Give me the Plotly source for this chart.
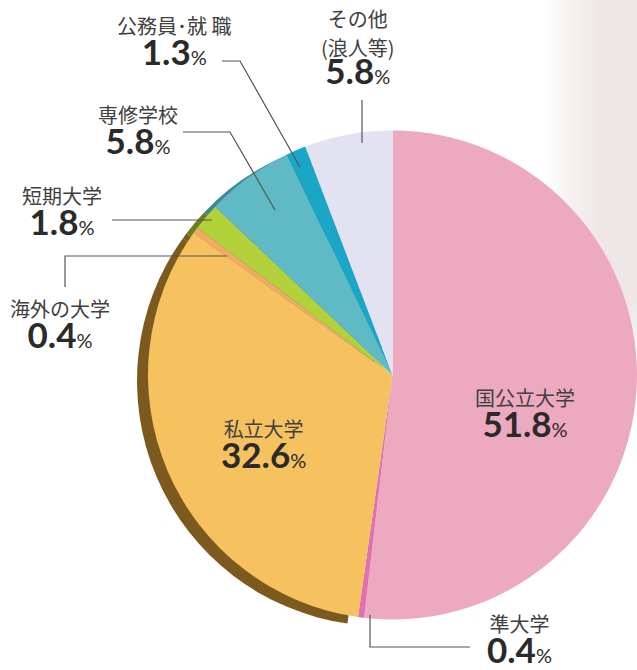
import plotly.graph_objects as go

W, H = 637, 670

categories = ["国公立大学", "準大学", "私立大学", "海外の大学", "短期大学", "専修学校", "公務員・就職", "その他(浪人等)"]
values = [51.8, 0.4, 32.6, 0.4, 1.8, 5.8, 1.3, 5.8]
colors = ["#EDA9BF", "#E070AE", "#F6C15F", "#F4A86A", "#B3D13A", "#5FBAC6", "#1AA6C6", "#E3E2F2"]
shadow_colors = ["rgba(0,0,0,0)", "rgba(0,0,0,0)", "#7C5A1E", "#7C5A1E", "#6E7C1E", "#3F8893", "#137A92", "#B5B4C4"]

def px(x):
    return x / W

def py(y):
    return 1 - y / H

cx, cy, r = 393, 375, 245
dom_x = [max(0, px(cx - r)), min(1, px(cx + r))]
dom_y = [py(cy + r), py(cy - r)]
sdx, sdy = -11, 6
sdom_x = [max(0, px(cx - r + sdx)), min(1, px(cx + r + sdx))]
sdom_y = [py(cy + r + sdy), py(cy - r + sdy)]

fig = go.Figure()
fig.add_trace(go.Pie(labels=categories, values=values, sort=False, direction="clockwise",
                     marker=dict(colors=shadow_colors, line=dict(width=0)),
                     textinfo="none", hoverinfo="skip", showlegend=False,
                     domain=dict(x=sdom_x, y=sdom_y)))
fig.add_trace(go.Pie(labels=categories, values=values, sort=False, direction="clockwise",
                     marker=dict(colors=colors, line=dict(width=0)),
                     textinfo="none", showlegend=False,
                     domain=dict(x=dom_x, y=dom_y)))

jp = "Noto Sans CJK JP"
numfont = "Lato"

label_lines = [["国公立大学"], ["準大学"], ["私立大学"], ["海外の大学"], ["短期大学"], ["専修学校"],
               ["公務員･就 職"], ["その他", "(浪人等)"]]
# centre of the label block (label + number) in pixels
block_pos = [(525, 413), (519, 639), (263, 444), (60, 325), (62, 212), (138, 130), (174, 42), (358, 48)]

anns = []
for i, cat in enumerate(categories):
    lines = [f"<span style='font-family:{jp};font-size:20px;color:#404040'>{t}</span>" for t in label_lines[i]]
    lines.append(f"<b style='font-size:35px'>{values[i]:.1f}</b><span style='font-size:20px'>%</span>")
    bx, by = block_pos[i]
    anns.append(dict(x=px(bx), y=py(by), xref="paper", yref="paper", showarrow=False,
                     text="<br>".join(lines), align="center",
                     font=dict(family=numfont, size=24 if len(lines) == 2 else 22, color="#2a2a2a"),
                     xanchor="center", yanchor="middle"))

def path(pts):
    return "M " + " L ".join(f"{px(x)} {py(y)}" for x, y in pts)

leaders = [
    [(222, 61), (240, 61), (300, 167)],
    [(362, 100), (362, 143)],
    [(183, 132), (230, 132), (275, 210)],
    [(112, 220), (212, 220)],
    [(65, 287), (65, 256), (227, 256)],
    [(370, 615), (370, 647), (470, 647)],
]
shapes = []
steps = 10
for k in range(steps):
    shapes.append(dict(type="rect", xref="paper", yref="paper", layer="below",
                       x0=px(545 + k * 6), x1=1, y0=py(360 - k * 6), y1=1,
                       fillcolor="#E9D9DC", opacity=0.08, line=dict(width=0)))
for pts in leaders:
    shapes.append(dict(type="path", xref="paper", yref="paper", path=path(pts),
                       line=dict(color="#555555", width=1.2)))

fig.update_layout(width=W, height=H, margin=dict(l=0, r=0, t=0, b=0),
                  paper_bgcolor="white", plot_bgcolor="white",
                  annotations=anns, shapes=shapes, showlegend=False)
fig.write_html("out.html", config={"displayModeBar": False},
               post_script="document.body.style.margin='0';document.body.style.overflow='hidden';")
